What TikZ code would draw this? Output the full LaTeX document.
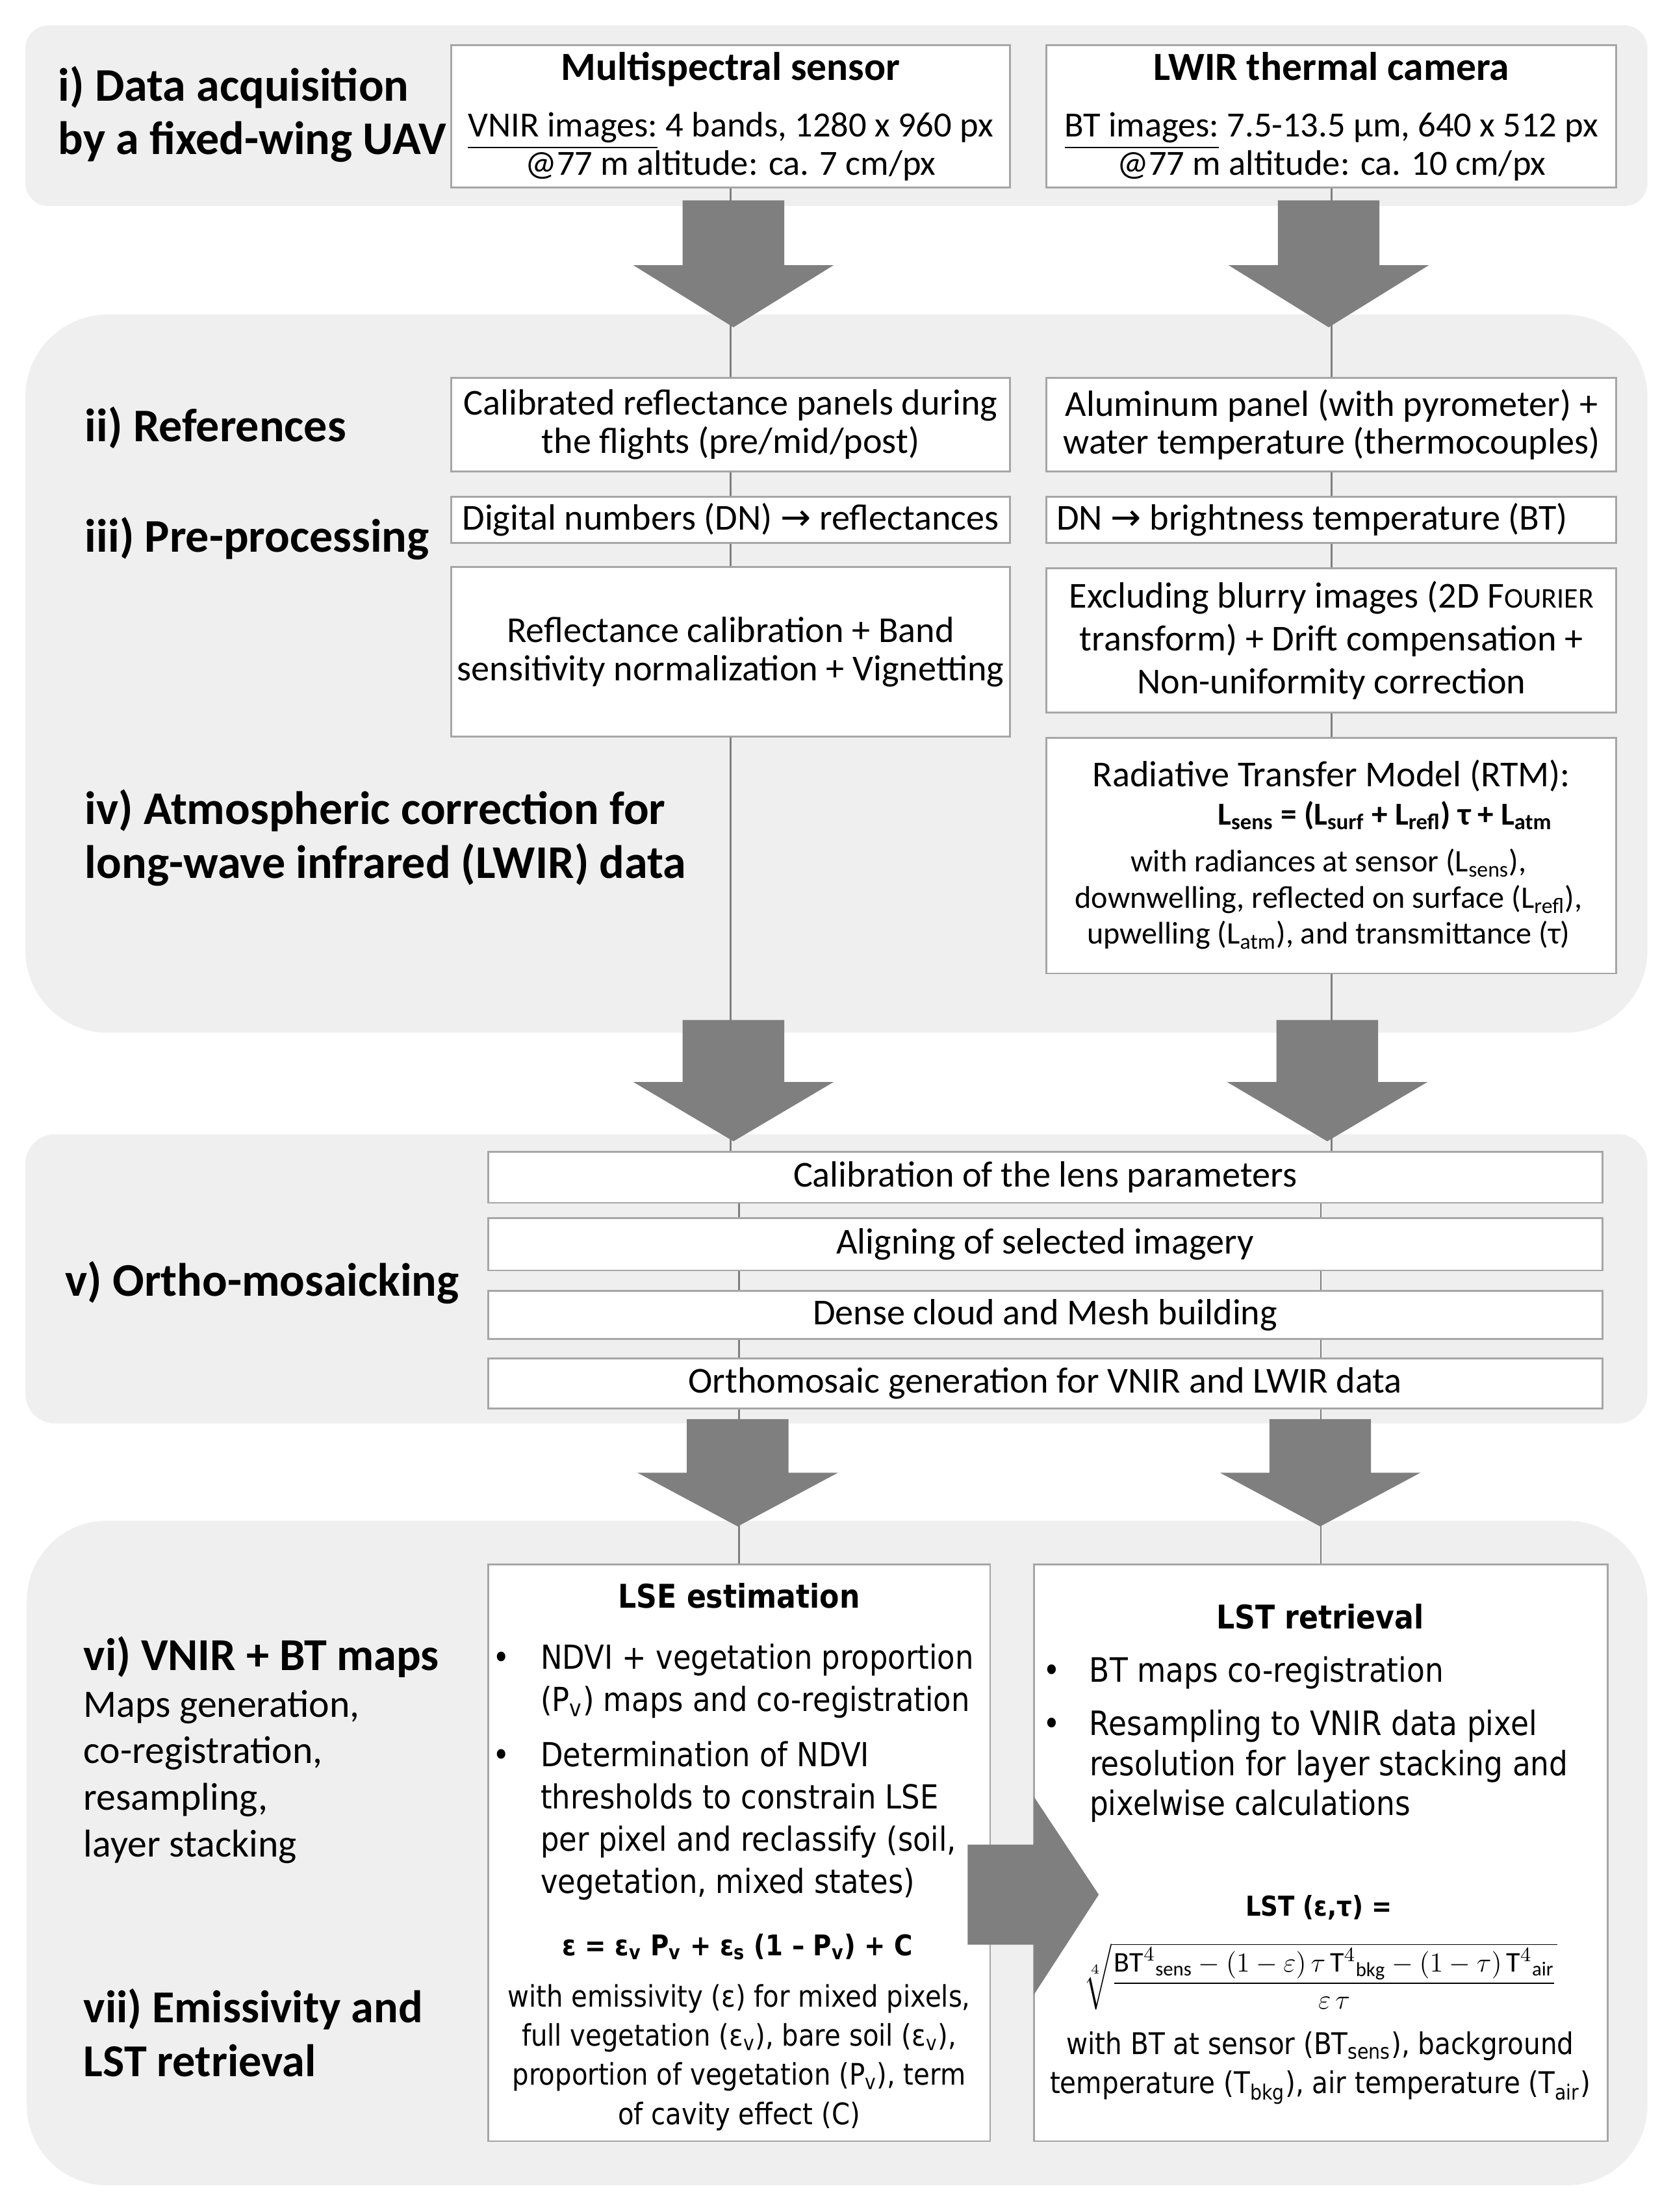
\documentclass[tikz,border=0pt]{standalone}
\usepackage{amsmath}
\usepackage{fontspec}
\setmainfont{Carlito}
\newfontfamily\tahoma[FakeStretch=0.88]{DejaVu Sans}
\newfontfamily\arrowfont{DejaVu Sans}
\newcommand{\lo}[1]{\textsubscript{#1}}

\definecolor{panelgray}{HTML}{EFEFEF}
\definecolor{arrowgray}{HTML}{7F7F7F}
\definecolor{boxgray}{HTML}{A6A6A6}

\tikzset{
  panel/.style={fill=panelgray},
  box/.style={draw=boxgray, line width=0.8pt, fill=white, align=center, inner sep=1pt,
    font=\fontsize{16}{16.7}\selectfont},
  wh/.style 2 args={minimum width=#1*0.021712cm, minimum height=#2*0.021712cm},
  link/.style={draw=arrowgray, line width=0.7pt},
  sec/.style={anchor=west, align=left, inner sep=0pt, font=\fontsize{20.5}{23.5}\selectfont\bfseries},
  plain/.style={inner sep=0pt, align=center},
}

\begin{document}
\begin{tikzpicture}[x=0.021712cm, y=-0.021712cm]
  \useasboundingbox (0,0) rectangle (1186,1568);
  % grey panels
  \fill[panel, rounded corners=10pt] (18,18) rectangle (1168,146);
  \fill[panel, rounded corners=36pt] (18,223) rectangle (1168,732);
  \fill[panel, rounded corners=13pt] (18,804) rectangle (1168,1009);
  \fill[panel, rounded corners=35pt] (19,1078) rectangle (1168,1549);

  % i) acquisition
  \node[sec] (lab1) at (41,81) {i) Data acquisition\\by a fixed-wing UAV};
  \node[box, wh={396}{101}, font=\fontsize{15.5}{16.7}\selectfont] (ms) at (518,82.5)
    {{\fontsize{17.5}{18}\selectfont\bfseries Multispectral sensor}\\[8pt]
     \underline{VNIR images:} 4 bands, 1280 x 960 px\\@77 m altitude: ca. 7 cm/px};
  \node[box, wh={404}{101}, font=\fontsize{15.5}{16.7}\selectfont] (lw) at (944,82.5)
    {{\fontsize{17.5}{18}\selectfont\bfseries LWIR thermal camera}\\[8pt]
     \underline{BT images:} 7.5-13.5 µm, 640 x 512 px\\@77 m altitude: ca. 10 cm/px};

  % ii) - iv)
  \node[sec] (lab2) at (60,303) {ii) References};
  \node[sec] (lab3) at (60,382) {iii) Pre-processing};
  \node[sec] (lab4) at (60,594) {iv) Atmospheric correction for\\long-wave infrared (LWIR) data};
  \node[box, wh={396}{66}] (refL) at (518,301) {Calibrated reflectance panels during\\the flights (pre/mid/post)};
  \node[box, wh={404}{66}] (refR) at (944,301) {Aluminum panel (with pyrometer) +\\water temperature (thermocouples)};
  \node[box, wh={396}{33}] (dnL) at (518,368.5) {Digital numbers (DN) {\arrowfont →} reflectances};
  \node[box, wh={404}{33}] (dnR) at (944,368.5) {DN {\arrowfont →} brightness temperature (BT)\hspace*{0.6cm}};
  \node[box, wh={396}{120}] (calL) at (518,462) {Reflectance calibration + Band\\sensitivity normalization + Vignetting};
  \node[box, wh={404}{102}] (blurR) at (944,454)
    {Excluding blurry images (2D F{\fontsize{12.5}{13}\selectfont OURIER}\\[2pt]transform) + Drift compensation +\\[2pt]Non-uniformity correction};
  \node[box, wh={404}{167}] (rtm) at (944,606.5) {};
  \node[plain, font=\fontsize{16}{16.7}\selectfont] (rtmtitle) at (944,550) {Radiative Transfer Model (RTM):};
  \node[plain, font=\fontsize{14}{16.7}\selectfont\bfseries] (rtmeq) at (982,578)
    {L\lo{sens} = (L\lo{surf} + L\lo{refl}) τ + L\lo{atm}};
  \node[plain, font=\fontsize{13.7}{15.8}\selectfont] (rtmnote) at (942,637.5)
    {with radiances at sensor (L\lo{sens}),\\downwelling, reflected on surface (L\lo{refl}),\\upwelling (L\lo{atm}), and transmittance (τ)};

  % v) ortho-mosaicking
  \node[sec] (lab5) at (46,909) {v) Ortho-mosaicking};
  \node[box, wh={790}{36}] (ortho1) at (741,834.6) {Calibration of the lens parameters};
  \node[box, wh={790}{37}] (ortho2) at (741,882) {Aligning of selected imagery};
  \node[box, wh={790}{34}] (ortho3) at (741,932) {Dense cloud and Mesh building};
  \node[box, wh={790}{35.5}] (ortho4) at (741,980.7) {Orthomosaic generation for VNIR and LWIR data};

  % vi) + vii) maps and retrieval
  \node[sec, font=\fontsize{20}{23.5}\selectfont\bfseries] (lab6) at (59,1174.5) {vi) VNIR + BT maps};
  \node[anchor=west, align=left, inner sep=0pt, font=\fontsize{17}{20.4}\selectfont] (lab6b) at (59,1259.5)
    {Maps generation,\\co-registration,\\resampling,\\layer stacking};
  \node[sec, font=\fontsize{20}{23.5}\selectfont\bfseries] (lab7) at (59,1441) {vii) Emissivity and\\LST retrieval};

  \node[box, wh={356}{409}] (lse) at (524,1313.3) {};
  \node[plain, font=\tahoma\fontsize{14.3}{18}\selectfont\bfseries] (lsetitle) at (524,1131) {LSE estimation};
  \node[anchor=north west, inner sep=0pt, font=\tahoma\fontsize{14.5}{18.5}\selectfont] (lseitems) at (349,1162)
    {\begin{tabular}{@{}p{0.74cm}@{}l@{}}
      •&NDVI + vegetation proportion\\
       &(P\lo{v}) maps and co-registration\\[5.5pt]
      •&Determination of NDVI\\
       &thresholds to constrain LSE\\
       &per pixel and reclassify (soil,\\
       &vegetation, mixed states)
     \end{tabular}};
  \node[plain, font=\tahoma\fontsize{12.5}{18}\selectfont\bfseries] (lseeq) at (523,1380)
    {ε = ε\lo{v} P\lo{v} + ε\lo{s} (1 – P\lo{v}) + C};
  \node[plain, font=\tahoma\fontsize{13}{17.1}\selectfont] (lsenote) at (524,1458.5)
    {with emissivity (ε) for mixed pixels,\\full vegetation (ε\lo{v}), bare soil (ε\lo{v}),\\proportion of vegetation (P\lo{v}), term\\of cavity effect (C)};

  \node[box, wh={407}{409}] (lst) at (936.5,1313.3) {};
  \node[plain, font=\tahoma\fontsize{14.3}{18}\selectfont\bfseries] (lsttitle) at (936,1146) {LST retrieval};
  \node[anchor=north west, inner sep=0pt, font=\tahoma\fontsize{14.7}{17.5}\selectfont] (lstitems) at (739,1172)
    {\begin{tabular}{@{}p{0.72cm}@{}l@{}}
      •&BT maps co-registration\\[6pt]
      •&Resampling to VNIR data pixel\\
       &resolution for layer stacking and\\
       &pixelwise calculations
     \end{tabular}};
  \node[plain, font=\tahoma\fontsize{12}{18}\selectfont\bfseries] (lsteq) at (935,1352) {LST (ε,τ) =};
  \node[plain, font=\fontsize{12.5}{14}\selectfont] (lstroot) at (936,1401)
    {$\sqrt[4]{\dfrac{\mathrm{BT}^{4}{}_{\mathrm{sens}} - (1-\varepsilon)\,\tau\,\mathrm{T}^{4}{}_{\mathrm{bkg}} - (1-\tau)\,\mathrm{T}^{4}{}_{\mathrm{air}}}{\varepsilon\,\tau}}$};
  \node[plain, font=\tahoma\fontsize{13.1}{17}\selectfont] (lstnote) at (936,1466)
    {with BT at sensor (BT\lo{sens}), background\\temperature (T\lo{bkg}), air temperature (T\lo{air})};

  % connectors
  \draw[link] (ms) -- (refL);
  \draw[link] (refL) -- (dnL);
  \draw[link] (dnL) -- (calL);
  \draw[link] (calL) -- (calL |- ortho1.north);
  \draw[link] (lw) -- (refR);
  \draw[link] (refR) -- (dnR);
  \draw[link] (dnR) -- (blurR);
  \draw[link] (blurR) -- (rtm);
  \draw[link] (rtm) -- (rtm |- ortho1.north);
  \foreach \a/\b in {ortho1/ortho2, ortho2/ortho3, ortho3/ortho4} {
    \draw[link] (\a.south -| lse) -- (\b.north -| lse);
    \draw[link] (\a.south -| lst) -- (\b.north -| lst);
  }
  \draw[link] (ortho4.south -| lse) -- (lse);
  \draw[link] (ortho4.south -| lst) -- (lst);

  % block arrows: x / shaft top / head start / tip
  \foreach \ax/\ya/\yb/\yc in {520/142/188/232, 942/142/188/232, 520/723/767/809,
      941/723/767/809, 523/1006/1044/1082, 936/1006/1044/1082} {
    \fill[arrowgray] (\ax-36,\ya) -- (\ax+36,\ya) -- (\ax+36,\yb) -- (\ax+71,\yb)
      -- (\ax,\yc) -- (\ax-71,\yb) -- (\ax-36,\yb) -- cycle;
  }
  \fill[arrowgray] (686,1307.6) -- (733,1307.6) -- (733,1273.6) -- (779,1343)
    -- (733,1414) -- (733,1378.5) -- (686,1378.5) -- cycle;
\end{tikzpicture}
\end{document}
